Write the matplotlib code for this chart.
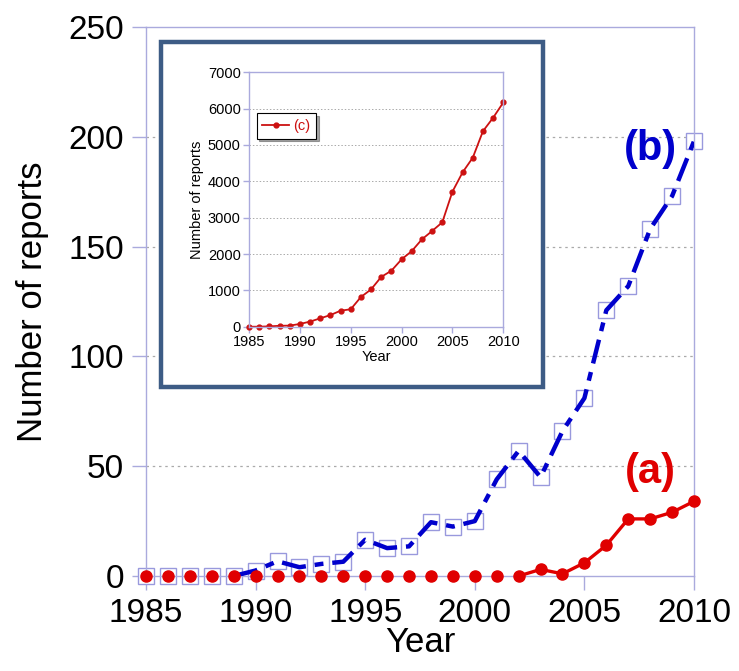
import matplotlib
matplotlib.use('Agg')
from matplotlib import pyplot as plt
import matplotlib.patches as mpatches

plt.rcParams['font.family'] = ['Liberation Sans', 'DejaVu Sans']

years = list(range(1985, 2011))
# (a) reports, red dots
a_vals = [0, 0, 0, 0, 0, 0, 0, 0, 0, 0, 0, 0, 0, 0, 0, 0, 0, 0,
          3, 1, 6, 14, 26, 26, 29, 34]
# (b) reports, blue dashed squares
b_vals = [0, 0, 0, 0, 0, 2.5, 6.7, 4, 5.5, 6.5, 16.5, 12.7, 13.5, 24.5, 22.5, 25,
          44, 57, 45, 66, 81, 121, 132, 158, 173, 198]
# (c) inset totals
c_vals = [0, 0, 10, 25, 30, 75, 140, 230, 320, 440, 480, 816, 1027, 1370, 1541, 1853,
          2080, 2404, 2633, 2872, 3716, 4248, 4651, 5380, 5750, 6170]

lav = '#AAAADD'
red = '#E00000'
blue = '#0000CC'

fig = plt.figure(figsize=(7.39, 6.71), dpi=100)
ax = fig.add_axes([146/739, 1-576/671, 548/739, 549/671])

ax.set_xlim(1985, 2010)
ax.set_ylim(0, 250)
for v in [50, 100, 150, 200]:
    ax.axhline(v, color='#AAAAAA', lw=0.9, ls=(0, (2, 3)), zorder=0)

# blue series: squares for all, dashed line from 1989
ax.plot(years[4:], b_vals[4:], color=blue, lw=3.2, dashes=(5.5, 2, 2, 2), zorder=3)
ax.plot(years, b_vals, ls='none', marker='s', ms=11, mfc='white', mec='#9999DD',
        mew=1.0, zorder=2, clip_on=False)
# red series: dots for all, solid line from 2002
ax.plot(years[17:], a_vals[17:], color=red, lw=2.4, zorder=4)
ax.plot(years, a_vals, ls='none', marker='o', ms=8, color=red, zorder=5, clip_on=False)

for s in ax.spines.values():
    s.set_color(lav)
    s.set_linewidth(1.0)
ax.set_xticks(range(1985, 2011, 5))
ax.set_yticks(range(0, 251, 50))
ax.tick_params(axis='both', colors=lav, labelcolor='black', labelsize=24, length=10, width=1)
ax.tick_params(axis='x', pad=6)
ax.tick_params(axis='y', pad=6)
ax.set_xlabel('Year', fontsize=25, labelpad=-2)
ax.set_ylabel('Number of reports', fontsize=25, labelpad=14)

ax.text(2008.0, 194.5, '(b)', color=blue, fontsize=30, fontweight='bold', ha='center', va='center')
ax.text(2008.0, 47.5, '(a)', color=red, fontsize=30, fontweight='bold', ha='center', va='center')

# inset frame
frame = mpatches.Rectangle((161/739, 1-387/671), 382/739, 345/671, transform=fig.transFigure,
                           fill=True, facecolor='white', edgecolor='#3D5C85', lw=3.2, zorder=10)
fig.patches.append(frame)

ins = fig.add_axes([249/739, 1-326.7/671, 254.3/739, 254.4/671])
ins.set_zorder(11)
ins.set_xlim(1985, 2010)
ins.set_ylim(0, 7000)
for v in range(1000, 7000, 1000):
    ins.axhline(v, color='#AAAAAA', lw=0.7, ls=(0, (1.5, 2)), zorder=0)
ins.plot(years, c_vals, color='#CC1111', lw=1.3, marker='o', ms=3.5, clip_on=False, label='(c)')
for s in ins.spines.values():
    s.set_color(lav)
    s.set_linewidth(1.0)
ins.set_xticks(range(1985, 2011, 5))
ins.set_yticks(range(0, 7001, 1000))
ins.tick_params(axis='both', colors=lav, labelcolor='black', labelsize=10.5, length=4, width=1, pad=2)
ins.set_xlabel('Year', fontsize=10.5, labelpad=1)
ins.set_ylabel('Number of reports', fontsize=10.5, labelpad=3)
leg = ins.legend(loc='upper left', bbox_to_anchor=(0.03, 0.84), fontsize=10.5, frameon=True,
                 fancybox=False, shadow=True, handlelength=1.8, handletextpad=0.3,
                 borderpad=0.4, borderaxespad=0)
leg.get_frame().set_edgecolor('black')
leg.get_frame().set_linewidth(0.8)
for t in leg.get_texts():
    t.set_color('#CC1111')

fig.savefig('out.png', dpi=100)
